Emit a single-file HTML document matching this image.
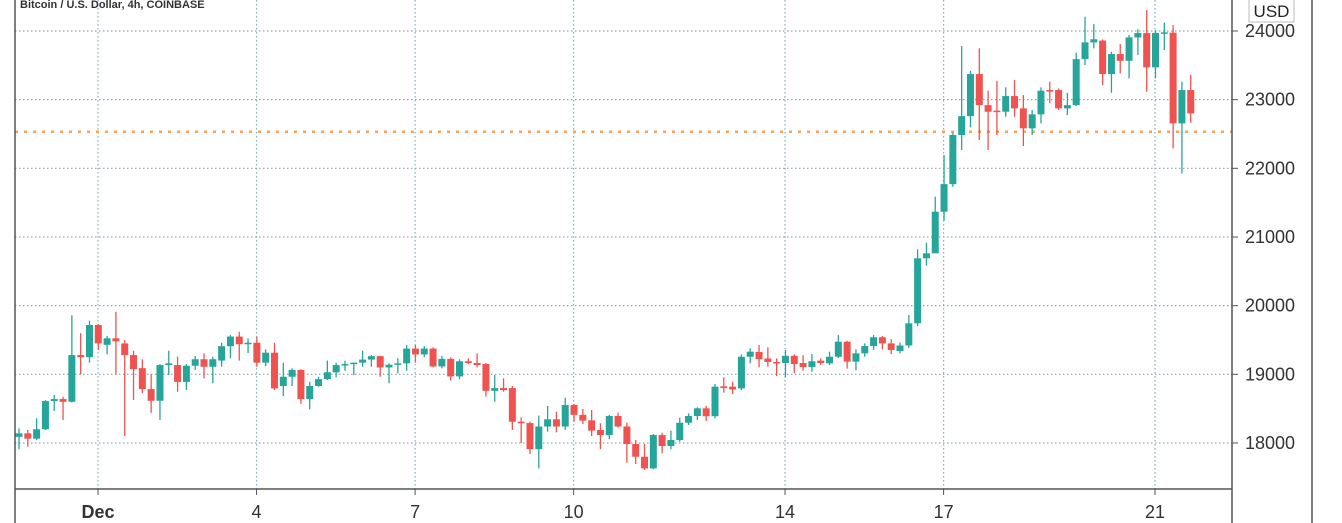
<!DOCTYPE html>
<html><head><meta charset="utf-8">
<style>
html,body{margin:0;padding:0;background:#fff;}
body{width:1342px;height:523px;overflow:hidden;font-family:"Liberation Sans",sans-serif;}
svg{display:block;}
</style></head>
<body>
<svg id="chart" width="1342" height="523" xmlns="http://www.w3.org/2000/svg">
  <g id="grid"></g>
  <g id="candles"></g>
  <line x1="15" y1="0" x2="15" y2="523" stroke="#555" stroke-width="1.5"/>
  <line x1="1232" y1="0" x2="1232" y2="523" stroke="#555" stroke-width="1.5"/>
  <line x1="1312" y1="0" x2="1312" y2="523" stroke="#555" stroke-width="1.5"/>
  <line x1="15" y1="489" x2="1232" y2="489" stroke="#555" stroke-width="1.5"/>
  <g id="yaxis"></g>
  <g id="xaxis"></g>
  <text x="20" y="8" font-size="11" font-weight="bold" fill="#333">Bitcoin / U.S. Dollar, 4h, COINBASE</text>
  <rect x="1249" y="-1" width="45" height="23" fill="#fff" stroke="#bbb"/>
  <text x="1271.5" y="17" font-size="17" fill="#222" text-anchor="middle">USD</text>
</svg>
<script>
const opens=[18090,18140,18063,18200,18611,18640,18600,19280,19250,19718,19430,19525,19450,19280,19090,18785,18615,19135,19135,18890,19125,19220,19110,19200,19410,19550,19440,19460,19170,19315,18830,18965,19065,18640,18830,18930,19030,19135,19150,19170,19215,19265,19100,19140,19160,19375,19290,19375,19115,19225,18970,19190,19165,19150,18760,18800,18800,18310,18290,17910,18240,18345,18240,18553,18410,18330,18190,18115,18393,18240,17985,17800,17630,18116,17956,18044,18295,18393,18505,18390,18825,18820,18795,19256,19325,19230,19180,19165,19270,19165,19105,19200,19160,19256,19475,19185,19306,19412,19540,19450,19340,19420,19743,20690,20762,21368,21770,22485,22760,23373,22920,22840,22824,23052,22873,22582,22786,23140,23140,22873,22920,23590,23834,23860,23373,23664,23566,23906,23970,23470,23960,23975,22655,23140];
const closes=[18140,18063,18200,18611,18640,18600,19280,19250,19718,19450,19525,19480,19280,19075,18785,18615,19135,19160,18890,19125,19220,19110,19220,19410,19550,19440,19460,19170,19315,18795,18965,19065,18640,18830,18930,19030,19135,19150,19170,19215,19265,19100,19140,19160,19375,19290,19375,19115,19225,18970,19190,19165,19135,18760,18800,18770,18310,18290,17910,18240,18345,18240,18553,18410,18325,18180,18115,18393,18240,17985,17800,17630,18116,17956,18044,18295,18393,18505,18390,18820,18800,18780,19256,19330,19220,19180,19165,19270,19150,19105,19190,19165,19256,19475,19185,19306,19412,19540,19450,19355,19420,19743,20690,20762,21368,21770,22485,22760,23373,22920,22824,22824,23052,22873,22582,22786,23130,23130,22873,22920,23590,23834,23880,23373,23664,23566,23906,23970,23470,23970,23980,22655,23140,22800];
const highs=[18214,18190,18360,18626,18699,18674,19860,19600,19780,19730,19558,19910,19500,19344,19218,19005,19150,19343,19257,19150,19267,19306,19256,19460,19572,19620,19524,19548,19364,19460,19169,19087,19073,18892,18965,19200,19169,19198,19169,19345,19281,19266,19160,19233,19427,19427,19412,19393,19267,19248,19219,19233,19306,19169,18990,18942,18830,18374,18310,18400,18540,18456,18660,18568,18495,18481,18287,18408,18442,18296,18044,17985,18131,18150,18180,18368,18432,18520,18540,18859,18957,18893,19291,19380,19427,19393,19233,19354,19291,19281,19296,19233,19329,19572,19490,19364,19451,19572,19558,19510,19461,19864,20820,20916,21586,22193,22520,23780,23420,23747,23130,23275,23179,23285,23067,22849,23179,23261,23164,23100,23683,24207,24100,23878,23697,23809,23941,24024,24305,24013,24120,24086,23261,23360];
const lows=[17908,17946,18044,18190,18466,18335,18590,19000,19170,19354,19290,19000,18100,18626,18724,18440,18335,18990,18747,18772,19063,18942,18870,19110,19233,19200,19310,19111,19121,18770,18685,18830,18570,18490,18820,18917,18957,19053,18990,19111,19111,18965,18870,19014,19053,19169,19248,19102,19087,18910,18927,19146,19102,18675,18600,18747,18190,18000,17840,17630,18165,18155,18190,18310,18277,18102,17910,18054,18228,17713,17694,17607,17617,17850,17908,18019,18262,18335,18320,18359,18732,18713,18772,19160,19102,19111,18975,18957,19014,19053,19038,19136,19136,19238,19083,19058,19257,19354,19364,19296,19306,19384,19704,20582,21193,21237,21731,22266,22597,22412,22266,22485,22751,22751,22325,22485,22655,22946,22849,22776,22907,23504,23747,23212,23100,23383,23310,23649,23115,23310,23722,22290,21927,22664];
const priceTicks=[18000,19000,20000,21000,22000,23000,24000];
const dayTickLabels=["Dec","4","7","10","14","17","21"];
const dayTickDays=[1,4,7,10,14,17,21];
const refPrice=22533;

const NS="http://www.w3.org/2000/svg";
function yScale(p){return 443-(p-18000)*0.06867;}
function xScale(i){return 19+i*8.81;}
function xDay(d){return 98+(d-1)*52.85;}
function mk(tag,attrs,parent){const e=document.createElementNS(NS,tag);for(const k in attrs)e.setAttribute(k,attrs[k]);parent.appendChild(e);return e;}

const grid=document.getElementById('grid');
const yaxis=document.getElementById('yaxis');
const xaxis=document.getElementById('xaxis');
const cg=document.getElementById('candles');

priceTicks.forEach(p=>{
  const y=yScale(p);
  const l=mk('line',{x1:15,y1:y,x2:1232,y2:y,stroke:'#8fa3ad','stroke-width':1.2,'stroke-dasharray':'1.5 2.5'},grid);
  
  
  const t=mk('line',{x1:1232,y1:y,x2:1238,y2:y,stroke:'#555'},yaxis);
  
  
  const tx=mk('text',{x:1245,y:y+6,'font-size':18,fill:'#333'},yaxis);
  tx.textContent=p;
  
  
});
dayTickDays.forEach((d,i)=>{
  const x=xDay(d);
  const l=mk('line',{x1:x,y1:0,x2:x,y2:489,stroke:'#7fb3bf','stroke-width':1.2,'stroke-dasharray':'1.5 2.5'},grid);
  
  
  const t=mk('line',{x1:x,y1:489,x2:x,y2:495,stroke:'#555'},xaxis);
  
  
  const tx=mk('text',{x:x,y:518,'font-size':18,fill:'#333','text-anchor':'middle','font-weight':i===0?'bold':'normal'},xaxis);
  tx.textContent=dayTickLabels[i];
  
  
});
const ry=yScale(refPrice);
const ref=mk('line',{x1:15,y1:ry,x2:1232,y2:ry,stroke:'#f5a55a','stroke-width':2.5,'stroke-dasharray':'3 6'},grid);



opens.forEach((o,i)=>{
  const c=closes[i],h=highs[i],lo=lows[i];
  const col=c>=o?'#26a69a':'#ef5350';
  const x=xScale(i);
  const g=mk('g',{},cg);
  
  
  mk('line',{x1:x,y1:yScale(Math.max(h,o,c)),x2:x,y2:yScale(Math.min(lo,o,c)),stroke:col,'stroke-width':1.3},g);
  const top=yScale(Math.max(o,c)),bot=yScale(Math.min(o,c));
  mk('rect',{x:x-3.5,y:top,width:7,height:Math.max(1.5,bot-top),fill:col},g);
});
</script>
</body></html>
